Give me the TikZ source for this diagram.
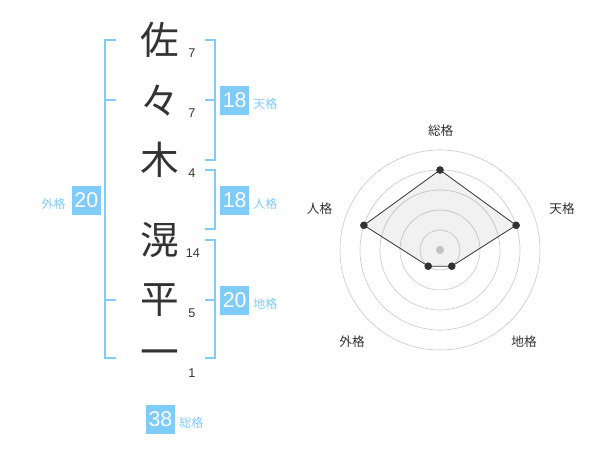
\documentclass[tikz,border=0pt]{standalone}
\usepackage{fontspec}
\newfontfamily\cjk{Noto Sans CJK JP}
\setmainfont{Liberation Sans}
\definecolor{sky}{HTML}{80CCF8}
\definecolor{ink}{HTML}{333333}
\definecolor{ring}{HTML}{CCCCCC}
\begin{document}
\begin{tikzpicture}[x=0.75pt,y=-0.75pt,
  kanji/.style={font=\cjk\fontsize{29}{29}\selectfont, text=ink, inner sep=0},
  strokes/.style={font=\fontsize{9.5}{10}\selectfont, text=ink, inner sep=0},
  valbox/.style={fill=sky, text=white, minimum width=21.75pt, minimum height=21.75pt, inner sep=0, font=\fontsize{16}{16}\selectfont},
  lbl/.style={font=\cjk\fontsize{9}{10}\selectfont, text=sky, inner sep=0},
  brk/.style={draw=sky, line width=1.5pt},
  rlbl/.style={font=\cjk\fontsize{9.5}{10}\selectfont, text=ink, inner sep=0},
  dot/.style={circle, fill=ink, inner sep=0, minimum size=5.5pt}]
\useasboundingbox (0,0) rectangle (600,470);
% kanji
\node[kanji] (k1) at (160,40) {佐};
\node[kanji] (k2) at (160,101) {々};
\node[kanji] (k3) at (160,160) {木};
\node[kanji] (k4) at (160,240) {滉};
\node[kanji] (k5) at (160,300) {平};
\node[kanji] (k6) at (160,358) {一};
% strokes
\node[strokes] (s1) at (192,53) {7};
\node[strokes] (s2) at (192,113) {7};
\node[strokes] (s3) at (192,173) {4};
\node[strokes] (s4) at (193,253) {14};
\node[strokes] (s5) at (192,313) {5};
\node[strokes] (s6) at (192,373) {1};
% left bracket (gaikaku)
\draw[brk] (116,40) -- (105,40) -- (105,358.5) -- (116,358.5);
\draw[brk] (105,100) -- (116,100);
\draw[brk] (105,300) -- (116,300);
% right brackets
\draw[brk] (205,40) -- (215,40) -- (215,160) -- (205,160);
\draw[brk] (205,100) -- (215,100);
\draw[brk] (205,170) -- (215,170) -- (215,229.5) -- (205,229.5);
\draw[brk] (205,240) -- (215,240) -- (215,358.5) -- (205,358.5);
\draw[brk] (205,300) -- (215,300);
% value boxes
\node[valbox] (b1) at (234.7,100.3) {18};
\node[lbl, anchor=west] (l1) at (253,104) {天格};
\node[valbox] (b2) at (234.7,200.3) {18};
\node[lbl, anchor=west] (l2) at (253,204) {人格};
\node[valbox] (b3) at (234.7,300.3) {20};
\node[lbl, anchor=west] (l3) at (253,304) {地格};
\node[valbox] (b4) at (86.3,200.3) {20};
\node[lbl, anchor=east] (l4) at (66,204) {外格};
\node[valbox] (b5) at (160.5,419.3) {38};
\node[lbl, anchor=west] (l5) at (179,423) {総格};
% radar
\coordinate (c) at (440,250);
\foreach \r in {20,40,60,80,100} \draw[ring, line width=0.5pt] (c) circle[radius=\r];
\fill[ring] (c) circle[radius=4];
\node[dot] (v1) at (440,170) {};
\node[dot] (v2) at (516.1,225.3) {};
\node[dot] (v3) at (451.8,266.2) {};
\node[dot] (v4) at (428.2,266.2) {};
\node[dot] (v5) at (363.9,225.3) {};
\filldraw[fill=ink, fill opacity=0.07, draw=ink, line width=0.6pt] (v1.center) -- (v2.center) -- (v3.center) -- (v4.center) -- (v5.center) -- cycle;
\node[dot] at (v1) {};
\node[dot] at (v2) {};
\node[dot] at (v3) {};
\node[dot] at (v4) {};
\node[dot] at (v5) {};
\node[rlbl] (r1) at (440.7,131) {総格};
\node[rlbl] (r2) at (562,208.5) {天格};
\node[rlbl] (r3) at (524,342) {地格};
\node[rlbl] (r4) at (352,342) {外格};
\node[rlbl] (r5) at (319.5,208.5) {人格};
\end{tikzpicture}
\end{document}
